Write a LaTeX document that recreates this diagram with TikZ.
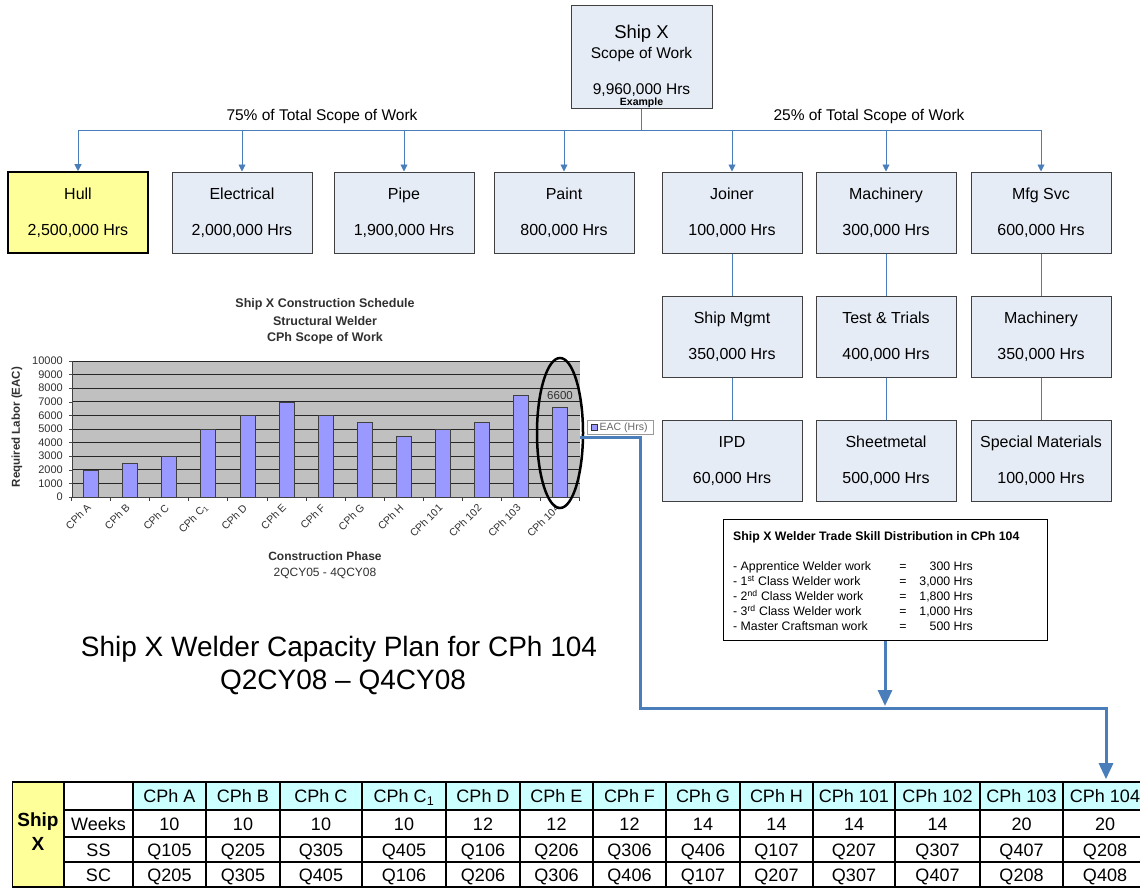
\documentclass[tikz,border=0pt]{standalone}
\usepackage{fontspec}
\setmainfont{Liberation Sans}
\usetikzlibrary{arrows.meta,shapes.geometric}
\definecolor{boxfill}{HTML}{E6ECF6}
\definecolor{boxline}{HTML}{404040}
\definecolor{hullfill}{HTML}{FFFF99}
\definecolor{connblue}{HTML}{4A7EBB}
\definecolor{hdrfill}{HTML}{CCFFFF}
\definecolor{chartbg}{HTML}{C0C0C0}
\definecolor{barfill}{HTML}{9999FF}
\definecolor{axtext}{HTML}{303030}
\newcommand\fsz[2]{\fontsize{#1}{#2}\selectfont}
\newcommand\wbs[6]{%
  \node[#6] (#1) at (#2,#3+40.5) {};
  \node[wbstext] (#1a) at (#2,#3+27) {#4};
  \node[wbstext] (#1b) at (#2,#3+63.5) {#5};
}
\begin{document}
\begin{tikzpicture}[x=1pt,y=-1pt,
  wbsbox/.style={draw=boxline, fill=boxfill, line width=1pt, minimum width=140, minimum height=81, inner sep=0},
  hullbox/.style={wbsbox, fill=hullfill, draw=black, line width=1.6pt},
  wbstext/.style={font=\fsz{16}{19}, inner sep=0, anchor=base},
  toptext/.style={inner sep=0, anchor=base},
  conn/.style={draw=connblue, line width=0.9pt},
  connarrow/.style={conn, -{Triangle[width=7pt,length=7pt]}},
  bigarrow/.style={draw=connblue, line width=3pt, -{Triangle[width=14pt,length=16pt]}},
  charttitle/.style={font=\bfseries\fsz{12.5}{14}, inner sep=0, text=axtext},
  ytick/.style={font=\fsz{11}{12}, inner sep=0, anchor=east, text=axtext},
  xtick/.style={font=\fsz{10.5}{12}, inner sep=0, anchor=east, rotate=45, text=axtext},
  wtext/.style={font=\fsz{12.3}{14}, inner sep=0, anchor=base west},
  tbase/.style={draw=black, line width=1.6pt, inner sep=0},
  tcell/.style={tbase, font=\fsz{18}{20}, text height=13pt, text depth=0pt},
  hcell/.style={tcell, fill=hdrfill},
]
\useasboundingbox (0,0) rectangle (1140,888);

% ---------- top box ----------
\node[wbsbox, minimum width=141, minimum height=103] (top) at (641.5,57.5) {};
\node[toptext, font=\fsz{18.5}{20}] (topa) at (641.5,38.5) {Ship X};
\node[toptext, font=\fsz{15.5}{18}] (topb) at (641.5,58.5) {Scope of Work};
\node[toptext, font=\fsz{15.5}{18}] (topc) at (641.5,95) {9,960,000 Hrs};
\node[toptext, font=\bfseries\fsz{10.5}{12}] (topd) at (641.5,105.5) {Example};

\node[inner sep=0, anchor=base, font=\fsz{15.5}{18}] (pct75) at (322,121) {75\% of Total Scope of Work};
\node[inner sep=0, anchor=base, font=\fsz{15.5}{18}] (pct25) at (869,121) {25\% of Total Scope of Work};

% ---------- WBS boxes ----------
\wbs{hull}{78}{172}{Hull}{2,500,000 Hrs}{hullbox}
\wbs{elec}{242}{172}{Electrical}{2,000,000 Hrs}{wbsbox}
\wbs{pipe}{404}{172}{Pipe}{1,900,000 Hrs}{wbsbox}
\wbs{paint}{564}{172}{Paint}{800,000 Hrs}{wbsbox}
\wbs{joiner}{732}{172}{Joiner}{100,000 Hrs}{wbsbox}
\wbs{mach}{886}{172}{Machinery}{300,000 Hrs}{wbsbox}
\wbs{mfg}{1041}{172}{Mfg Svc}{600,000 Hrs}{wbsbox}
\wbs{shipm}{732}{296}{Ship Mgmt}{350,000 Hrs}{wbsbox}
\wbs{test}{886}{296}{Test \& Trials}{400,000 Hrs}{wbsbox}
\wbs{macht}{1041}{296}{Machinery}{350,000 Hrs}{wbsbox}
\wbs{ipd}{732}{420}{IPD}{60,000 Hrs}{wbsbox}
\wbs{sheet}{886}{420}{Sheetmetal}{500,000 Hrs}{wbsbox}
\wbs{spec}{1041}{420}{Special Materials}{100,000 Hrs}{wbsbox}

% ---------- connectors ----------
\coordinate (bus) at (641.5,130);
\draw[conn] (top.south) -- (bus);
\draw[conn] (bus -| hull.north) -- (bus -| mfg.north);
\foreach \n in {hull,elec,pipe,paint,joiner,mach,mfg}
  \draw[connarrow] (bus -| \n.north) -- (\n.north);
\draw[conn] (joiner.south) -- (shipm.north);
\draw[conn] (shipm.south) -- (ipd.north);
\draw[conn] (mach.south) -- (test.north);
\draw[conn] (test.south) -- (sheet.north);
\draw[conn] (mfg.south) -- (macht.north);
\draw[conn] (macht.south) -- (spec.north);

% ---------- chart ----------
\node[charttitle] (ct1) at (325,304) {Ship X Construction Schedule};
\node[charttitle] (ct2) at (325,321) {Structural Welder};
\node[charttitle] (ct3) at (325,338) {CPh Scope of Work};
\fill[chartbg] (72,361) rectangle (580,497);
\foreach \k in {1,...,10}
  \draw[black!85, line width=0.8pt] (72,{497-13.6*\k}) -- (580,{497-13.6*\k});
\foreach \k/\t in {0/0,1/1000,2/2000,3/3000,4/4000,5/5000,6/6000,7/7000,8/8000,9/9000,10/10000}{
  \draw[black!70, line width=0.6pt] (69,{497-13.6*\k}) -- (72,{497-13.6*\k});
  \node[ytick] at (63,{497-13.6*\k}) {\t};
}
\foreach \nm/\v [count=\i from 0] in {CPh A/2.0,CPh B/2.5,CPh C/3.0,{CPh C\textsubscript{1}}/5.0,CPh D/6.0,CPh E/7.0,CPh F/6.0,CPh G/5.5,CPh H/4.5,CPh 101/5.0,CPh 102/5.5,CPh 103/7.5,CPh 104/6.6}{
  \draw[fill=barfill, draw=black!75, line width=0.6pt] ({91+39.08*\i-7.5},497) rectangle ({91+39.08*\i+7.5},{497-13.6*\v});
  \node[xtick] at ({91+39.08*\i-2},506) {\nm};
}
\draw[black!75, line width=0.8pt] (72,361) -- (72,497) -- (580,497);
\foreach \k in {0,...,13}
  \draw[black!75, line width=0.8pt] ({71.5+39.08*\k},497) -- ({71.5+39.08*\k},501);
\node[font=\bfseries\fsz{11.5}{13}, inner sep=0, rotate=90, text=axtext] (ylab) at (17,427) {Required Labor (EAC)};
\node[font=\bfseries\fsz{12}{14}, inner sep=0, text=axtext] (xl1) at (325,556) {Construction Phase};
\node[font=\fsz{12}{14}, inner sep=0, text=axtext] (xl2) at (325,573) {2QCY05 - 4QCY08};
\node[inner sep=0, font=\fsz{11.5}{13}, text=axtext] (v6600) at (560,396) {6600};
\node[draw=black, ellipse, line width=2.5pt, minimum width=46, minimum height=150, inner sep=0] (ring) at (560,433) {};
% legend
\node[draw=black!40, fill=white, minimum width=66, minimum height=14, inner sep=0, line width=0.6pt] (legend) at (620,427.5) {};
\draw[fill=barfill, draw=black!80, line width=0.5pt] (591,424.5) rectangle (597,430.5);
\node[inner sep=0, anchor=west, font=\fsz{10.5}{12}, text=black!60] (legt) at (599.5,427.5) {EAC (Hrs)};

% ---------- big title ----------
\node[inner sep=0, font=\fsz{28}{32}] (bt1) at (339,649) {Ship X Welder Capacity Plan for CPh 104};
\node[inner sep=0, font=\fsz{28}{32}] (bt2) at (343,682) {Q2CY08 -- Q4CY08};

% ---------- welder box ----------
\node[draw=black, fill=white, line width=1pt, minimum width=324, minimum height=121, inner sep=0] (welder) at (885,579.5) {};
\node[inner sep=0, anchor=base west, font=\bfseries\fsz{12.3}{14}] (wt) at (733,540.5) {Ship X Welder Trade Skill Distribution in CPh 104};
\foreach \lab/\val [count=\i from 0] in {{- Apprentice Welder work}/300 Hrs,{- 1\textsuperscript{st} Class Welder work}/{3,000 Hrs},{- 2\textsuperscript{nd} Class Welder work}/{1,800 Hrs},{- 3\textsuperscript{rd} Class Welder work}/{1,000 Hrs},{- Master Craftsman work}/500 Hrs}{
  \node[wtext] at (733,{570.5+15*\i}) {\lab};
  \node[wtext, anchor=base] at (903,{570.5+15*\i}) {=};
  \node[wtext, anchor=base east] at (973,{570.5+15*\i}) {\val};
}

% ---------- table ----------
\node[tbase, fill=hullfill, minimum width=51, minimum height=105, font=\bfseries\fsz{19}{24}, align=center, text depth=6pt] (shipx) at (38,834.5) {Ship\\X};
\node[tcell, minimum width=69, minimum height=28] (lab0) at (98.5,796) {};
\node[tcell, minimum width=69, minimum height=27] (lab1) at (98.5,823.5) {Weeks};
\node[tcell, minimum width=69, minimum height=25] (lab2) at (98.5,849.5) {SS};
\node[tcell, minimum width=69, minimum height=25] (lab3) at (98.5,874.5) {SC};
\foreach \xa/\xb/\hd/\wk/\ssq/\scq [count=\i] in {
  133/206/CPh A/10/Q105/Q205,
  206/280/CPh B/10/Q205/Q305,
  280/362/CPh C/10/Q305/Q405,
  362/446/{CPh C\textsubscript{1}}/10/Q405/Q106,
  446/520/CPh D/12/Q106/Q206,
  520/593/CPh E/12/Q206/Q306,
  593/666/CPh F/12/Q306/Q406,
  666/740/CPh G/14/Q406/Q107,
  740/813/CPh H/14/Q107/Q207,
  813/895/CPh 101/14/Q207/Q307,
  895/980/CPh 102/14/Q307/Q407,
  980/1063/CPh 103/20/Q407/Q208,
  1063/1147/CPh 104/20/Q208/Q408}{
  \node[hcell, minimum width=\xb-\xa, minimum height=28] (h\i) at ({(\xa+\xb)/2},796) {\hd};
  \node[tcell, minimum width=\xb-\xa, minimum height=27] (w\i) at ({(\xa+\xb)/2},823.5) {\wk};
  \node[tcell, minimum width=\xb-\xa, minimum height=25] (s\i) at ({(\xa+\xb)/2},849.5) {\ssq};
  \node[tcell, minimum width=\xb-\xa, minimum height=25] (c\i) at ({(\xa+\xb)/2},874.5) {\scq};
}

% ---------- thick blue arrows ----------
\coordinate (lgstart) at (580,437);
\coordinate (turn1) at (640,437);
\coordinate (turn2) at (640,708);
\coordinate (turn3) at (1106,708);
\draw[bigarrow] (lgstart) -- (turn1) -- (turn2) -- (turn3) -- ([yshift=2pt]h13.north -| turn3);
\draw[bigarrow] (welder.south) -- ([yshift=2pt]welder.south |- turn2);
\end{tikzpicture}
\end{document}
